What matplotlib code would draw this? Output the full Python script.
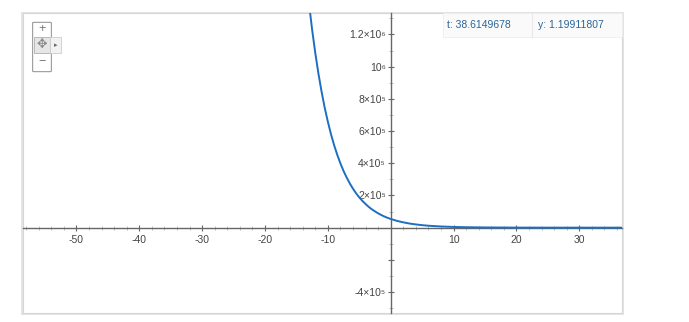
"""Exponential decay curve in a graph-calculator style frame."""

import matplotlib
matplotlib.use("Agg")
import matplotlib.pyplot as plt
import matplotlib.patches as mpatches
from matplotlib.ticker import FixedLocator, FixedFormatter

W, H = 689, 322
LINE = "#1c6fc2"
AXIS = "#666666"
TIP = "#2a6496"

plt.rcParams.update({
    "font.family": ["Liberation Sans", "DejaVu Sans"],
    "font.size": 7,
})

# values
t_vals = [-13, -12.5, -12, -11.5, -11, -10.5, -10, -9.5, -9, -8.5, -8, -7.5,
          -7, -6.5, -6, -5.5, -5, -4.5, -4, -3.5, -3, -2.5, -2, -1.5, -1,
          -0.5, 0, 1, 2, 3, 4, 5, 6, 7, 8, 10, 12, 15, 20, 25, 30, 37]
y_vals = [1393000, 1229000, 1085000, 957000, 845000, 745000, 658000, 580000,
          512000, 452000, 399000, 352000, 311000, 274000, 242000, 213000,
          188000, 166000, 147000, 129000, 114000, 101000, 89000, 78500,
          69000, 61000, 54000, 42000, 33000, 25500, 20000, 15500, 12000,
          9400, 7300, 4400, 2700, 1300, 360, 100, 30, 5]

x_major = [-50, -40, -30, -20, -10, 10, 20, 30]
x_labels = ["-50", "-40", "-30", "-20", "-10", "10", "20", "30"]
x_minor = [v for v in range(-58, 37, 2) if v % 10 != 0]
y_major = [-400000, -200000, 200000, 400000, 600000, 800000, 1000000, 1200000]
y_labels = ["-4×10⁵", "", "2×10⁵", "4×10⁵", "6×10⁵", "8×10⁵", "10⁶", "1.2×10⁶"]
y_minor = [-500000, -300000, -100000, 100000, 300000, 500000, 700000,
           900000, 1100000, 1300000]

tip_t = "t: 38.6149678"
tip_y = "y: 1.19911807"


def fx(px):
    return px / W


def fy(py):
    return 1 - py / H


fig = plt.figure(figsize=(W / 100, H / 100), dpi=100)

# frame with soft shadow
L, T, R, B = 23, 13, 622, 313
fig.patches.append(mpatches.Rectangle((fx(L - 2), fy(B + 2)), fx(R - L + 4), (B - T + 3) / H,
                                      transform=fig.transFigure, fc="#e4e4e4", ec="none", zorder=-2))
fig.patches.append(mpatches.Rectangle((fx(L), fy(B)), fx(R - L), (B - T) / H,
                                      transform=fig.transFigure, fc="white", ec="#d6d6d6", lw=0.8, zorder=-1))

ax = fig.add_axes([fx(L), fy(B), fx(R - L), (B - T) / H])
ax.set_zorder(1)
ax.set_facecolor("none")
ax.plot(t_vals, y_vals, color=LINE, lw=1.4, solid_capstyle="round", zorder=3)
ax.set_xlim(-58.5, 36.8)
ax.set_ylim(-530000, 1333000)

for side in ["top", "right"]:
    ax.spines[side].set_visible(False)
for side in ["left", "bottom"]:
    ax.spines[side].set_position(("data", 0))
    ax.spines[side].set_color(AXIS)
    ax.spines[side].set_linewidth(1.0)

ax.xaxis.set_major_locator(FixedLocator(x_major))
ax.xaxis.set_major_formatter(FixedFormatter(x_labels))
ax.xaxis.set_minor_locator(FixedLocator(x_minor))
ax.yaxis.set_major_locator(FixedLocator(y_major))
ax.yaxis.set_major_formatter(FixedFormatter(y_labels))
ax.yaxis.set_minor_locator(FixedLocator(y_minor))

ax.tick_params(which="major", direction="inout", length=5, width=0.8,
               color=AXIS, labelsize=7.5, labelcolor="#444444", pad=2)
ax.tick_params(which="minor", direction="inout", length=3, width=0.6,
               color="#b4b4b4")
ax.tick_params(axis="x", which="major", pad=3)
ax.tick_params(axis="y", which="major", pad=1)

# hover readout box
fig.patches.append(mpatches.Rectangle((fx(443), fy(37)), fx(R - 443), 24 / H,
                                      transform=fig.transFigure, fc="#fafafa", ec="#eeeeee", lw=0.6, zorder=4))
fig.add_artist(plt.Line2D([fx(532), fx(532)], [fy(37), fy(13)], color="#e8e8e8", lw=0.8, zorder=5))
fig.text(fx(447), fy(25), tip_t, color=TIP, fontsize=7.5, va="center", ha="left", zorder=6)
fig.text(fx(538), fy(25), tip_y, color=TIP, fontsize=7.5, va="center", ha="left", zorder=6)

# zoom/pan control
fig.patches.append(mpatches.FancyBboxPatch((fx(34), fy(71)), fx(16), 48 / H,
                                           boxstyle="round,pad=0.002", transform=fig.transFigure,
                                           fc="white", ec="#9a9a9a", lw=0.8, zorder=4))
fig.patches.append(mpatches.Rectangle((fx(34), fy(53)), fx(16), 16 / H,
                                      transform=fig.transFigure, fc="#e6e6e6", ec="#b0b0b0", lw=0.6, zorder=5))
fig.patches.append(mpatches.Rectangle((fx(50), fy(53)), fx(11), 16 / H,
                                      transform=fig.transFigure, fc="#f2f2f2", ec="#cccccc", lw=0.6, zorder=5))
fig.text(fx(42), fy(29), "+", color="#777777", fontsize=9, ha="center", va="center", zorder=6)
fig.text(fx(42), fy(45), "✥", color="#888888", fontsize=9, ha="center", va="center",
         family=["DejaVu Sans"], zorder=6)
fig.text(fx(42), fy(62), "−", color="#777777", fontsize=9, ha="center", va="center", zorder=6)
fig.text(fx(55.5), fy(45), "▸", color="#666666", fontsize=5, ha="center", va="center",
         family=["DejaVu Sans"], zorder=6)

fig.savefig("out.png", dpi=100)
